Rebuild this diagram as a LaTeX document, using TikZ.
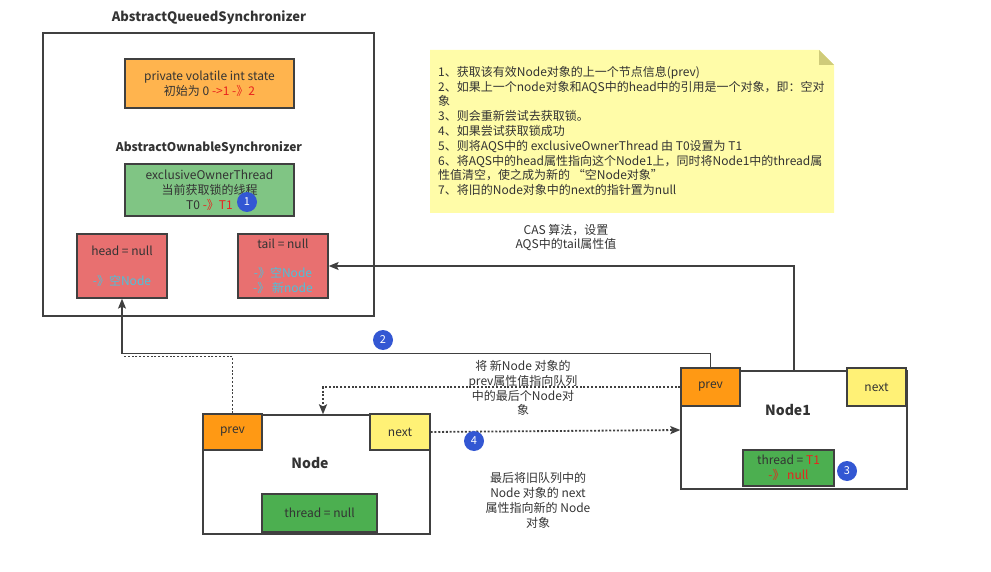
\documentclass[tikz,border=0pt]{standalone}
\usepackage{fontspec}
\setmainfont{Noto Sans CJK SC}
\usetikzlibrary{arrows.meta,calc}
\definecolor{linec}{HTML}{404040}
\definecolor{txt}{HTML}{333333}
\definecolor{stateor}{HTML}{FFB44E}
\definecolor{exgreen}{HTML}{80C584}
\definecolor{hred}{HTML}{E87070}
\definecolor{cyant}{HTML}{4BC2DB}
\definecolor{prevor}{HTML}{FF9914}
\definecolor{nexty}{HTML}{FFF176}
\definecolor{thgreen}{HTML}{4CAF50}
\definecolor{notey}{HTML}{FFFCA8}
\definecolor{foldc}{HTML}{CFCB7A}
\definecolor{badgeb}{HTML}{3357D3}
\definecolor{redt}{HTML}{E8231E}
\begin{document}
\begin{tikzpicture}[x=1pt,y=-1pt,
  font=\fontsize{12}{14.8}\selectfont,
  box/.style={draw=linec, line width=1.3pt, inner sep=0pt, align=center, text=txt},
  badge/.style={circle, fill=badgeb, text=white, inner sep=0pt, minimum size=20pt, font=\fontsize{11}{12}\selectfont},
  lbl/.style={align=center, text=txt, inner sep=0pt},
  conn/.style={draw=linec, line width=1.3pt},
  dotc/.style={draw=linec, line width=1.8pt, dash pattern=on 2pt off 1.8pt},
  tip/.style={-{Stealth[length=10pt,width=8pt,inset=2pt]}},
  titlef/.style={font=\bfseries\fontsize{13}{15}\selectfont},
]
\useasboundingbox (0,0) rectangle (991,572);

% AQS
\node[lbl, titlef] (aqst) at (209,18) {AbstractQueuedSynchronizer};
\node[box, minimum width=331pt, minimum height=283pt] (aqs) at (208.5,174.5) {};
\node[box, fill=stateor, minimum width=169pt, minimum height=49pt] (state) at (209.5,83.5)
  {private volatile int state\\初始为 0 \textcolor{redt}{->1 -》2}};
\node[lbl, font=\bfseries\fontsize{12}{14}\selectfont] (aost) at (209,148) {AbstractOwnableSynchronizer};
\node[box, fill=exgreen, minimum width=169pt, minimum height=52pt] (excl) at (209.5,190)
  {exclusiveOwnerThread\\当前获取锁的线程\\T0 \textcolor{redt}{-》T1}};
\node[badge] (b1) at (247,202) {1};
\node[box, fill=hred, minimum width=90pt, minimum height=64pt] (head) at (122,266)
  {head = null\\\mbox{}\\\textcolor{cyant}{-》空Node}};
\node[box, fill=hred, minimum width=90pt, minimum height=64pt] (tail) at (283,266)
  {tail = null\\\mbox{}\\\textcolor{cyant}{-》空Node}\\\textcolor{cyant}{-》 新node}};

% note
\fill[notey] (430,50) -- (819,50) -- (834,65) -- (834,213) -- (430,213) -- cycle;
\fill[foldc] (819,50) -- (834,65) -- (819,65) -- cycle;
\node[lbl, align=left, anchor=north west] (note) at (438,66)
  {1、获取该有效Node对象的上一个节点信息(prev)\\
   2、如果上一个node对象和AQS中的head中的引用是一个对象，即：空对\\
   象\\
   3、则会重新尝试去获取锁。\\
   4、如果尝试获取锁成功\\
   5、则将AQS中的 exclusiveOwnerThread 由 T0设置为 T1\\
   6、将AQS中的head属性指向这个Node1上，同时将Node1中的thread属\\
   性值清空，使之成为新的 “空Node对象”\\
   7、将旧的Node对象中的next的指针置为null};

% Node
\node[box, fill=white, minimum width=227pt, minimum height=119pt] (node) at (316.5,474.5) {};
\node[box, fill=prevor, minimum width=59pt, minimum height=36pt] (nprev) at (232.5,432) {prev};
\node[box, fill=nexty, minimum width=60pt, minimum height=36pt] (nnext) at (400,432) {next};
\node[lbl, font=\bfseries\fontsize{14}{16}\selectfont] (nodet) at (310,463) {Node};
\node[box, fill=thgreen, minimum width=115pt, minimum height=38pt] (nthr) at (319.5,513) {thread = null};

% Node1
\node[box, fill=white, minimum width=226pt, minimum height=118pt] (node1) at (794,430) {};
\node[box, fill=prevor, minimum width=59pt, minimum height=38pt] (n1prev) at (710.5,387) {prev};
\node[box, fill=nexty, minimum width=59pt, minimum height=38pt] (n1next) at (876.5,387) {next};
\node[lbl, font=\bfseries\fontsize{14}{16}\selectfont] (node1t) at (788,410) {Node1};
\node[box, fill=thgreen, minimum width=91pt, minimum height=36pt] (n1thr) at (788.5,468)
  {thread = \textcolor{redt}{T1}\\\textcolor{redt}{-》 null}};
\node[badge] (b3) at (847,471) {3};

% connectors
\draw[conn, tip] (node1.north) |- (tail.east);
\node[lbl] (castxt) at (566,237.5) {CAS 算法，设置\\AQS中的tail属性值};

\draw[conn, tip] (n1prev.north) -- ++(0,-14) -| (head.south);
\coordinate (jn) at (123,356.5);
\draw[dotc] (nprev.north) |- (jn);
\node[badge] (b2) at (383,340) {2};

\draw[dotc, tip] (n1prev.west) -| ([xshift=6.5pt]node.north);
\node[lbl] (prevtxt) at (523,388) {将 新Node 对象的\\prev属性值指向队列\\中的最后个Node对\\象};

\draw[dotc, tip] (nnext.east) -- (node1.west);
\node[badge] (b4) at (474,441) {4};
\node[lbl] (nexttxt) at (538,500.5) {最后将旧队列中的\\Node 对象的 next\\属性指向新的 Node\\对象};
\end{tikzpicture}
\end{document}
